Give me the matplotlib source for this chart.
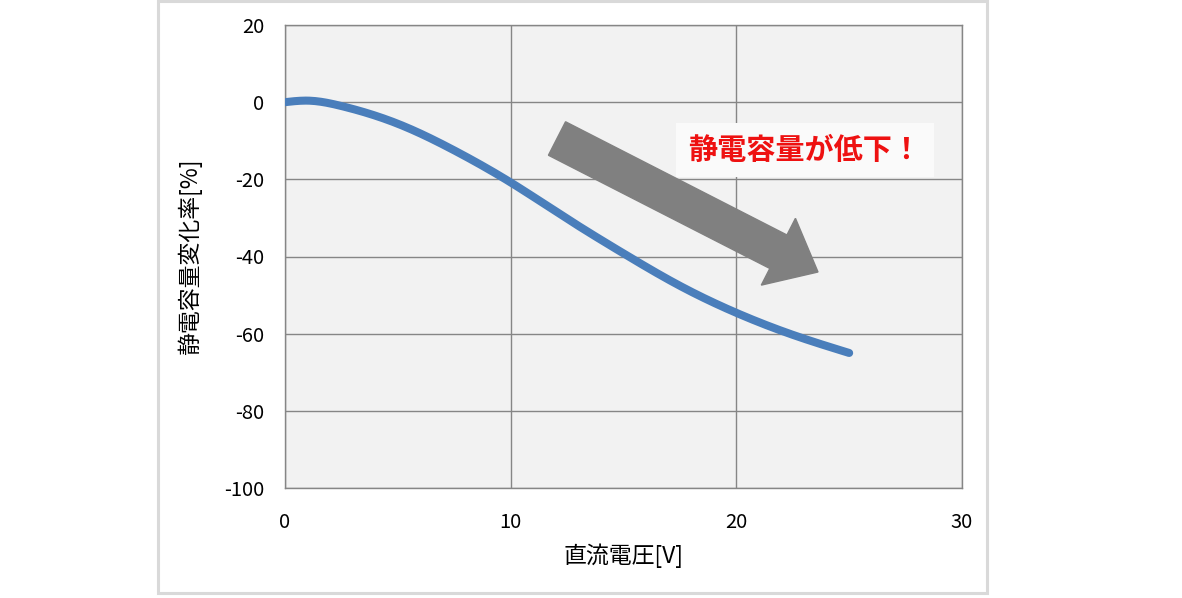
import matplotlib.pyplot as plt
import numpy as np
from matplotlib.patches import FancyArrow, Rectangle

plt.rcParams['font.family'] = ['Noto Sans CJK JP', 'DejaVu Sans']
plt.rcParams['axes.unicode_minus'] = False

# DC bias voltage [V] vs capacitance change [%]
voltage = [0, 1, 2.5, 5, 7.5, 10, 12.5, 15, 17.5, 20, 22.5, 25]
cap_change = [0, 0.4, -1.0, -5.6, -12.5, -20.8, -30.2, -39.2, -47.6, -54.6, -60.3, -65.0]

x_ticks = [0, 10, 20, 30]
y_ticks = [20, 0, -20, -40, -60, -80, -100]

W, H = 1182, 598
fig = plt.figure(figsize=(W / 100, H / 100), dpi=100)
fig.patch.set_facecolor("white")

# outer light-grey frame (pixel coords -> inches)
fig.patches.append(Rectangle((158 / 100, (H - 593) / 100), 829 / 100, 592 / 100,
                             transform=fig.dpi_scale_trans, fill=False,
                             edgecolor="#d9d9d9", linewidth=2.2))

ax = fig.add_axes([285 / W, 1 - 488 / H, (962 - 285) / W, (488 - 25) / H])
ax.set_facecolor("#f2f2f2")

# smooth curve through the read-off points (natural cubic spline)
xs = np.array(voltage, dtype=float)
ys = np.array(cap_change, dtype=float)
xf = np.linspace(xs[0], xs[-1], 300)
n = len(xs)
h = np.diff(xs)
A = np.zeros((n, n)); r = np.zeros(n)
A[0, 0] = A[-1, -1] = 1
for i in range(1, n - 1):
    A[i, i - 1] = h[i - 1]; A[i, i] = 2 * (h[i - 1] + h[i]); A[i, i + 1] = h[i]
    r[i] = 3 * ((ys[i + 1] - ys[i]) / h[i] - (ys[i] - ys[i - 1]) / h[i - 1])
c = np.linalg.solve(A, r)
b = (ys[1:] - ys[:-1]) / h - h * (2 * c[:-1] + c[1:]) / 3
d = (c[1:] - c[:-1]) / (3 * h)
idx = np.clip(np.searchsorted(xs, xf) - 1, 0, n - 2)
t = xf - xs[idx]
yf = ys[idx] + b[idx] * t + c[idx] * t ** 2 + d[idx] * t ** 3

ax.plot(xf, yf, color="#4a7ebb", lw=5.8, solid_capstyle="round", zorder=3)

ax.set_xlim(0, 30)
ax.set_ylim(-100, 20)
ax.set_xticks(x_ticks)
ax.set_yticks(y_ticks)
ax.tick_params(length=0, labelsize=14.5)
ax.tick_params(axis="x", pad=17)
ax.tick_params(axis="y", pad=15)
ax.grid(color="#868686", lw=1.0)
for s in ax.spines.values():
    s.set_color("#868686")
    s.set_linewidth(1.0)
ax.set_axisbelow(True)
ax.set_xlabel("直流電圧[V]", fontsize=16.5, labelpad=8)
ax.set_ylabel("静電容量変化率[%]", fontsize=16.5, labelpad=16)

# big grey arrow (pixel positions -> inches)
fig.patches.append(FancyArrow(5.57, (H - 138.5) / 100, 2.61, -1.335,
                              width=0.376, head_width=0.75, head_length=0.445,
                              length_includes_head=True, transform=fig.dpi_scale_trans,
                              color="#808080", zorder=4))

ax.text(0.768, 0.730, "静電容量が低下！", transform=ax.transAxes,
        ha="center", va="center", fontsize=21, fontweight="bold", color="#ee1111",
        bbox=dict(boxstyle="square,pad=0.42", fc="#fafafa", ec="none"), zorder=5)

fig.savefig("out.png", dpi=100)
